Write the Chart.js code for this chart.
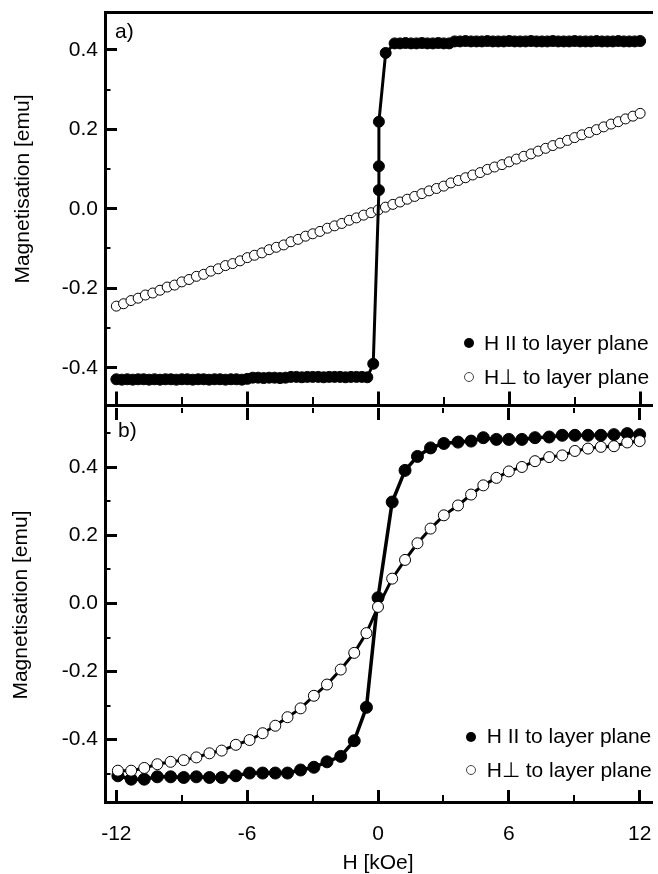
<!DOCTYPE html>
<html>
<head>
<meta charset="utf-8">
<script src="https://cdn.jsdelivr.net/npm/chart.js@4.4.1/dist/chart.umd.min.js"></script>
<style>
html, body { margin: 0; padding: 0; background: #fff; }
#wrap { position: relative; width: 658px; height: 874px; overflow: hidden; background: #fff; }
#wrap canvas { position: absolute; left: 0; }
#cA { top: 0; }
#cB { top: 400px; }
.t { position: absolute; font-family: 'Liberation Sans', Arial, sans-serif; font-size: 21px; line-height: 21px; color: #000; white-space: nowrap; }
.mk { position: absolute; border-radius: 50%; box-sizing: border-box; }
</style>
</head>
<body>
<div id="wrap">
  <canvas id="cA" width="658" height="412" style="width:658px;height:412px"></canvas>
  <canvas id="cB" width="658" height="474" style="width:658px;height:474px"></canvas>
</div>
<script>
// ---------------- data ----------------
const xMajor = [-12, -6, 0, 6, 12];
const xMajorLabels = ['-12', '-6', '0', '6', '12'];
const xMinor = [-9, -3, 3, 9];
const yMajor = [-0.4, -0.2, 0, 0.2, 0.4];
const yMajorLabels = ['-0.4', '-0.2', '0.0', '0.2', '0.4'];
const yMinorA = [-0.3, -0.1, 0.1, 0.3];
const yMinorB = [-0.5, -0.3, -0.1, 0.1, 0.3, 0.5];
const seriesNames = ['H II to layer plane', 'H\u22A5 to layer plane'];
const panelLabels = ['a)', 'b)'];
const xTitle = 'H [kOe]';
const yTitle = 'Magnetisation [emu]';

// panel a) - H parallel to layer plane
const aParH = [
  -12.00,-11.75,-11.50,-11.25,-11.00,-10.75,-10.50,-10.25,-10.00,-9.75,-9.50,-9.25,-9.00,-8.75,-8.50,-8.25,
  -8.00,-7.75,-7.50,-7.25,-7.00,-6.75,-6.50,-6.25,-6.00,-5.75,-5.50,-5.25,-5.00,-4.75,-4.50,-4.25,
  -4.00,-3.75,-3.50,-3.25,-3.00,-2.75,-2.50,-2.25,-2.00,-1.75,-1.50,-1.25,-1.00,-0.75,-0.50,
  -0.23, 0.03, 0.03, 0.03, 0.34,
  0.75,1.00,1.25,1.50,1.75,2.00,2.25,2.50,2.75,3.00,3.25,3.50,3.75,4.00,4.25,4.50,4.75,5.00,5.25,5.50,
  5.75,6.00,6.25,6.50,6.75,7.00,7.25,7.50,7.75,8.00,8.25,8.50,8.75,9.00,9.25,9.50,9.75,10.00,10.25,10.50,
  10.75,11.00,11.25,11.50,11.75,12.00
];
const aParM = [
  -0.429,-0.430,-0.429,-0.430,-0.429,-0.429,-0.430,-0.429,-0.430,-0.429,-0.429,-0.430,-0.429,-0.429,-0.430,-0.429,
  -0.429,-0.430,-0.429,-0.429,-0.430,-0.429,-0.429,-0.430,-0.428,-0.425,-0.425,-0.426,-0.425,-0.425,-0.426,-0.425,
  -0.423,-0.423,-0.424,-0.423,-0.423,-0.423,-0.424,-0.423,-0.423,-0.423,-0.424,-0.423,-0.423,-0.423,-0.424,
  -0.390, 0.047, 0.107, 0.219, 0.392,
  0.416,0.416,0.417,0.416,0.416,0.417,0.416,0.416,0.417,0.416,0.416,0.421,0.421,0.422,0.421,0.421,0.421,0.422,0.421,0.421,
  0.421,0.422,0.421,0.421,0.421,0.422,0.421,0.421,0.421,0.422,0.421,0.421,0.421,0.422,0.421,0.421,0.421,0.422,0.421,0.421,
  0.421,0.422,0.421,0.421,0.421,0.422
];
// panel a) - H perpendicular to layer plane
const aPerpH = [
  -12.00,-11.67,-11.33,-11.00,-10.67,-10.33,-10.00,-9.67,-9.33,-9.00,-8.67,-8.33,-8.00,-7.67,-7.33,-7.00,
  -6.67,-6.33,-6.00,-5.67,-5.33,-5.00,-4.67,-4.33,-4.00,-3.67,-3.33,-3.00,-2.67,-2.33,-2.00,-1.67,
  -1.33,-1.00,-0.67,-0.33,0.00,0.33,0.67,1.00,1.33,1.67,2.00,2.33,2.67,3.00,3.33,3.67,
  4.00,4.33,4.67,5.00,5.33,5.67,6.00,6.33,6.67,7.00,7.33,7.67,8.00,8.33,8.67,9.00,
  9.33,9.67,10.00,10.33,10.67,11.00,11.33,11.67,12.00
];
const aPerpM = [
  -0.245,-0.239,-0.231,-0.225,-0.217,-0.212,-0.205,-0.197,-0.192,-0.184,-0.178,-0.170,-0.165,-0.157,-0.151,-0.143,
  -0.138,-0.131,-0.123,-0.117,-0.111,-0.103,-0.097,-0.091,-0.083,-0.077,-0.069,-0.063,-0.057,-0.049,-0.043,-0.037,
  -0.029,-0.023,-0.016,-0.010,-0.003,0.004,0.011,0.017,0.024,0.031,0.038,0.045,0.051,0.057,0.065,0.071,
  0.078,0.085,0.091,0.099,0.105,0.111,0.118,0.125,0.132,0.138,0.145,0.152,0.159,0.165,0.172,0.179,
  0.186,0.192,0.199,0.206,0.213,0.219,0.226,0.233,0.240
];

// panel b) - field values shared by both series
const bH = [
  -11.93,-11.32,-10.72,-10.12,-9.51,-8.91,-8.33,-7.73,-7.17,-6.52,
  -5.89,-5.29,-4.71,-4.15,-3.55,-2.94,-2.34,-1.71,-1.09,-0.53,
  0.00,0.65,1.24,1.81,2.41,3.02,3.67,4.27,4.83,5.43,
  6.00,6.60,7.20,7.85,8.45,9.03,9.63,10.22,10.82,11.43,
  12.00
];
const bParM = [
  -0.506,-0.516,-0.516,-0.509,-0.509,-0.511,-0.509,-0.511,-0.511,-0.506,
  -0.498,-0.498,-0.498,-0.498,-0.489,-0.481,-0.465,-0.449,-0.403,-0.305,
  0.017,0.298,0.391,0.432,0.457,0.470,0.474,0.477,0.487,0.482,
  0.482,0.482,0.487,0.489,0.494,0.494,0.494,0.494,0.496,0.499,
  0.496
];
const bPerpM = [
  -0.491,-0.491,-0.483,-0.472,-0.465,-0.460,-0.452,-0.440,-0.432,-0.415,
  -0.401,-0.381,-0.359,-0.334,-0.308,-0.271,-0.238,-0.194,-0.145,-0.087,
  -0.010,0.073,0.128,0.177,0.220,0.259,0.288,0.320,0.347,0.369,
  0.388,0.401,0.418,0.430,0.435,0.448,0.455,0.460,0.462,0.473,
  0.477
];

// ---------------- chart setup ----------------
const FONT = "'Liberation Sans', Arial, sans-serif";
Chart.defaults.font.family = FONT;
Chart.defaults.font.size = 21;
Chart.defaults.color = '#000';

const X_MIN = -12.52, X_MAX = 12.52;

function near(v, arr) { return arr.findIndex(a => Math.abs(a - v) < 1e-6); }
function pts(xs, ys) { return xs.map((x, i) => ({ x: x, y: ys[i] })); }

function tickAxis(o) {
  const all = o.majors.concat(o.minors).sort((a, b) => a - b);
  const isMaj = ctx => !!(ctx && ctx.tick) && near(ctx.tick.value, o.majors) >= 0;
  return {
    type: 'linear', axis: o.axis, position: o.position, min: o.min, max: o.max,
    afterBuildTicks: s => { s.ticks = all.map(v => ({ value: v })); },
    afterFit: s => {
      if (o.width !== undefined) s.width = o.width;
      if (o.height !== undefined) s.height = o.height;
      s.paddingTop = 0; s.paddingBottom = 0; s.paddingLeft = 0; s.paddingRight = 0;
    },
    border: { display: o.border !== false, color: '#000', width: 3 },
    grid: {
      drawOnChartArea: false,
      drawTicks: o.tl !== 0,
      tickLength: o.tl,
      tickColor: '#000',
      tickWidth: ctx => isMaj(ctx) ? 3 : 2,
      lineWidth: ctx => isMaj(ctx) ? 3 : 2,
      tickBorderDash: ctx => isMaj(ctx) ? [] : (o.minorDash || [])
    },
    ticks: {
      display: !!o.showLabels, autoSkip: false, maxRotation: 0, minRotation: 0,
      padding: o.padding || 0, color: '#000', font: { family: FONT, size: 21 },
      callback: v => { const i = near(v, o.majors); return i >= 0 ? o.labels[i] : ''; }
    },
    title: o.title || { display: false }
  };
}

const common = {
  responsive: false, animation: false, devicePixelRatio: 1, events: [],
  plugins: { legend: { display: false }, tooltip: { enabled: false } }
};

// Panel a)
new Chart(document.getElementById('cA'), {
  type: 'scatter',
  data: {
    datasets: [
      { label: seriesNames[0], data: pts(aParH, aParM), showLine: true, borderColor: '#000', borderWidth: 3,
        pointRadius: 5.5, pointBackgroundColor: '#000', pointBorderColor: '#000', pointBorderWidth: 1, order: 0, clip: false },
      { label: seriesNames[1], data: pts(aPerpH, aPerpM), showLine: false,
        pointRadius: 5, pointBackgroundColor: '#fff', pointBorderColor: '#000', pointBorderWidth: 1, order: 1, clip: false }
    ]
  },
  options: Object.assign({}, common, {
    layout: { padding: { top: 12, bottom: 4, left: 0, right: 0 } },
    scales: {
      x: tickAxis({ axis: 'x', position: 'bottom', min: X_MIN, max: X_MAX, majors: xMajor, labels: xMajorLabels,
                    minors: xMinor, tl: -14, minorDash: [10, 100], height: 0 }),
      xTop: tickAxis({ axis: 'x', position: 'top', min: X_MIN, max: X_MAX, majors: xMajor, labels: xMajorLabels,
                       minors: xMinor, tl: 0, height: 0 }),
      y: tickAxis({ axis: 'y', position: 'left', min: -0.495, max: 0.495, majors: yMajor, labels: yMajorLabels,
                    minors: yMinorA, tl: -12, minorDash: [0, 6.5, 20, 100], showLabels: true, padding: 19, width: 105 })
    }
  })
});

// Panel b)
new Chart(document.getElementById('cB'), {
  type: 'scatter',
  data: {
    datasets: [
      { label: seriesNames[1], data: pts(bH, bPerpM), showLine: true, borderColor: '#000', borderWidth: 3,
        pointRadius: 5.5, pointBackgroundColor: '#fff', pointBorderColor: '#000', pointBorderWidth: 1, order: 0, clip: false },
      { label: seriesNames[0], data: pts(bH, bParM), showLine: true, borderColor: '#000', borderWidth: 3.5,
        pointRadius: 6, pointBackgroundColor: '#000', pointBorderColor: '#000', pointBorderWidth: 1, order: 1, clip: false }
    ]
  },
  options: Object.assign({}, common, {
    layout: { padding: { top: 8, bottom: 0, left: 0, right: 0 } },
    scales: {
      x: tickAxis({ axis: 'x', position: 'bottom', min: X_MIN, max: X_MAX, majors: xMajor, labels: xMajorLabels,
                    minors: xMinor, tl: -12, minorDash: [9, 100], showLabels: true, padding: 31.4, height: 72,
                    title: { display: true, text: xTitle, color: '#000', font: { family: FONT, size: 21, lineHeight: 1 },
                             padding: { top: 0, bottom: 0 } } }),
      xTop: tickAxis({ axis: 'x', position: 'top', min: X_MIN, max: X_MAX, majors: xMajor, labels: xMajorLabels,
                       minors: xMinor, tl: -12, minorDash: [0, 7, 20, 100], height: 0, border: false }),
      y: tickAxis({ axis: 'y', position: 'left', min: -0.583, max: 0.5742, majors: yMajor, labels: yMajorLabels,
                    minors: yMinorB, tl: -12, minorDash: [0, 6.5, 20, 100], showLabels: true, padding: 19, width: 105,
                    title: { display: true, text: yTitle, color: '#000', font: { family: FONT, size: 21, lineHeight: 1.2 },
                             padding: { top: 9, bottom: 0 } } })
    }
  })
});

// ---------------- text overlays ----------------
const wrap = document.getElementById('wrap');
function addText(txt, left, top, css) {
  const d = document.createElement('div');
  d.className = 't';
  d.textContent = txt;
  d.style.left = left + 'px';
  d.style.top = top + 'px';
  if (css) Object.assign(d.style, css);
  wrap.appendChild(d);
  return d;
}
function addMarker(cx, cy, r, filled) {
  const m = document.createElement('div');
  m.className = 'mk';
  m.style.left = (cx - r) + 'px';
  m.style.top = (cy - r) + 'px';
  m.style.width = (2 * r) + 'px';
  m.style.height = (2 * r) + 'px';
  m.style.background = filled ? '#000' : '#fff';
  m.style.border = filled ? '0' : '1px solid #444';
  wrap.appendChild(m);
}

// rotated y title of panel a)
addText(yTitle, 22.2 - 130, 189 - 12, { width: '260px', height: '24px', lineHeight: '24px', textAlign: 'center',
  transform: 'rotate(-90deg)' });

// panel labels
addText(panelLabels[0], 115, 20.2);
addText(panelLabels[1], 118, 419);

// legend of panel a)
addMarker(468.5, 343.3, 5, true);
addText(seriesNames[0], 484, 332.2);
addMarker(468.5, 376.7, 5, false);
addText(seriesNames[1], 484, 365.6);

// legend of panel b)
addMarker(471, 736.7, 5, true);
addText(seriesNames[0], 486.7, 725.2);
addMarker(470.5, 770, 5, false);
addText(seriesNames[1], 486.7, 758.9);
</script>
</body>
</html>
